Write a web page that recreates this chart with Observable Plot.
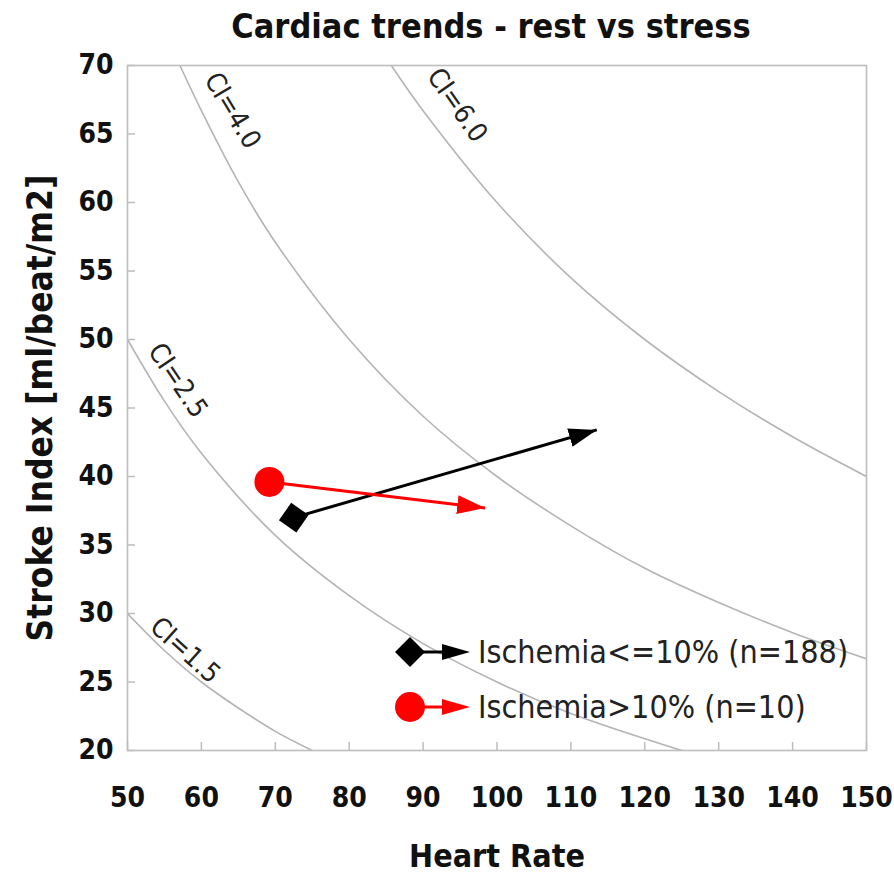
<!DOCTYPE html>
<html>
<head>
<meta charset="utf-8">
<script src="https://cdn.jsdelivr.net/npm/d3@7"></script>
<script src="https://cdn.jsdelivr.net/npm/@observablehq/plot@0.6"></script>
<style>
  body { margin: 0; background: #fff; }
  #wrap { position: relative; width: 894px; height: 873px; font-family: "Liberation Sans Narrow", "DejaVu Sans Condensed", "Roboto Condensed", Roboto, sans-serif; }
  #title { position: absolute; left: 0; width: 982px; top: 6px; text-align: center; font-size: 34px; font-weight: bold; color: #111; line-height: 40px; z-index: 2; }
  #chart { position: absolute; left: 0; top: 40px; }
  #legend { position: absolute; left: 390px; top: 624px; font-size: 32px; color: #222; }
  .lrow { display: flex; align-items: center; height: 55px; }
  .lrow svg { margin-right: 6px; }
</style>
</head>
<body>
<div id="wrap">
  <div id="chart"></div>
  <div id="title">Cardiac trends - rest vs stress</div>
  <div id="legend"></div>
</div>
<script>
// ---- Data ----
const xTicks = [50, 60, 70, 80, 90, 100, 110, 120, 130, 140, 150];
const yTicks = [20, 25, 30, 35, 40, 45, 50, 55, 60, 65, 70];

// Cardiac index isolines
const ciLevels = ["1.5", "2.5", "4.0", "6.0"];
const ci15HR = [50, 55, 60, 65, 70, 75];
const ci15SI = [30, 27.3, 25, 23.1, 21.4, 20];
const ci25HR = [50, 55, 60, 70, 80, 90, 100, 110, 125];
const ci25SI = [50, 45.5, 41.7, 35.7, 31.3, 27.8, 25, 22.7, 20];
const ci40HR = [57.1, 60, 65, 70, 80, 90, 100, 110, 120, 130, 140, 150];
const ci40SI = [70, 66.7, 61.5, 57.1, 50, 44.4, 40, 36.4, 33.3, 30.8, 28.6, 26.7];
const ci60HR = [85.7, 90, 100, 110, 120, 130, 140, 150];
const ci60SI = [70, 66.7, 60, 54.5, 50, 46.2, 42.9, 40];

// Isoline label anchor points
const labelHR = [57.8, 56.8, 64.2, 94.6];
const labelSI = [27.3, 47.0, 66.7, 67.1];
const labelAngle = [42, 56, 59, 55];

// Rest -> stress trends
const groups = ["Ischemia<=10% (n=188)", "Ischemia>10% (n=10)"];
const restHR = [72.5, 69.2];
const restSI = [37.0, 39.6];
const stressHR = [113.5, 98.4];
const stressSI = [43.4, 37.7];
const groupColors = ["#000000", "#ff0000"];

// ---- Build tables ----
const curveSets = [[ci15HR, ci15SI], [ci25HR, ci25SI], [ci40HR, ci40SI], [ci60HR, ci60SI]];
const curves = curveSets.flatMap(([hs, ss], i) => hs.map((h, j) => ({ci: ciLevels[i], hr: h, si: ss[j]})));
const labels = ciLevels.map((c, i) => ({text: "CI=" + c, hr: labelHR[i], si: labelSI[i], angle: labelAngle[i]}));
const trends = groups.map((g, i) => ({group: g, x1: restHR[i], y1: restSI[i], x2: stressHR[i], y2: stressSI[i], color: groupColors[i]}));

const FONT = '"Liberation Sans Narrow", "DejaVu Sans Condensed", "Roboto Condensed", Roboto, sans-serif';

const chart = Plot.plot({
  width: 894,
  height: 833,
  marginTop: 25,
  marginBottom: 123,
  marginLeft: 127,
  marginRight: 28,
  style: {fontFamily: FONT, background: "transparent", color: "#111"},
  x: {domain: [50, 150]},
  y: {domain: [20, 70]},
  marks: [
    Plot.line(curves, {x: "hr", y: "si", z: "ci", stroke: "#b4b4b4", strokeWidth: 1.6, curve: "catmull-rom", clip: true}),
    Plot.text(labels, {x: "hr", y: "si", text: "text", rotate: "angle", fontSize: 27, fill: "#222"}),
    Plot.frame({stroke: "#bdbdbd", strokeWidth: 1.6}),
    Plot.axisX(xTicks, {tickSize: -8, stroke: "#bdbdbd", strokeWidth: 1.5, tickFormat: () => "", label: null}),
    Plot.axisY(yTicks, {tickSize: -8, stroke: "#bdbdbd", strokeWidth: 1.5, tickFormat: () => "", label: null}),
    Plot.axisX(xTicks, {tickSize: 0, tickPadding: 37, fontSize: 28, fontWeight: "bold", fill: "#111",
      label: "Heart Rate", labelAnchor: "center", labelArrow: "none", labelOffset: 116}),
    Plot.axisY(yTicks, {tickSize: 0, tickPadding: 14, fontSize: 28, fontWeight: "bold", fill: "#111",
      label: "Stroke Index [ml/beat/m2]", labelAnchor: "center", labelArrow: "none", labelOffset: 100}),
    Plot.link(trends, {x1: "x1", y1: "y1", x2: "x2", y2: "y2", stroke: "color", strokeWidth: 3}),
    Plot.dot(trends.slice(0, 1), {x: "x1", y: "y1", symbol: "square", r: 12, fill: "color", rotate: 35}),
    Plot.dot(trends.slice(1), {x: "x1", y: "y1", symbol: "circle", r: 15, fill: "color"})
  ]
});
document.getElementById("chart").appendChild(chart);

// arrow heads as filled triangles
const svg = d3.select(chart);
const defs = svg.insert("defs", ":first-child");
groupColors.forEach((c, i) => {
  defs.append("marker")
    .attr("id", "head" + i)
    .attr("viewBox", "0 0 10 10")
    .attr("preserveAspectRatio", "none")
    .attr("refX", 10).attr("refY", 5)
    .attr("markerWidth", 28).attr("markerHeight", 19)
    .attr("markerUnits", "userSpaceOnUse")
    .attr("orient", "auto")
    .append("path").attr("d", "M0,0L10,5L0,10Z").attr("fill", c);
});
svg.selectAll('g[aria-label="link"] path').each(function(d, i) {
  d3.select(this).attr("marker-end", `url(#head${i})`);
});
// axis label fonts
svg.selectAll('g[aria-label="x-axis label"] text')
  .attr("font-size", 32).attr("font-weight", "bold");
svg.selectAll('g[aria-label="y-axis label"] text')
  .attr("font-size", 35).attr("font-weight", "bold");

// legend
const legend = d3.select("#legend");
groups.forEach((g, i) => {
  const row = legend.append("div").attr("class", "lrow");
  const s = row.append("svg").attr("width", 82).attr("height", 40);
  s.append("line").attr("x1", 20).attr("y1", 20).attr("x2", 58).attr("y2", 20)
    .attr("stroke", groupColors[i]).attr("stroke-width", 3);
  s.append("path").attr("d", "M52,12L80,20L52,28Z").attr("fill", groupColors[i]);
  if (i === 0) {
    s.append("path").attr("d", "M20,5L35,20L20,35L5,20Z").attr("fill", groupColors[i]);
  } else {
    s.append("circle").attr("cx", 20).attr("cy", 20).attr("r", 15).attr("fill", groupColors[i]);
  }
  row.append("span").text(g);
});
</script>
</body>
</html>
